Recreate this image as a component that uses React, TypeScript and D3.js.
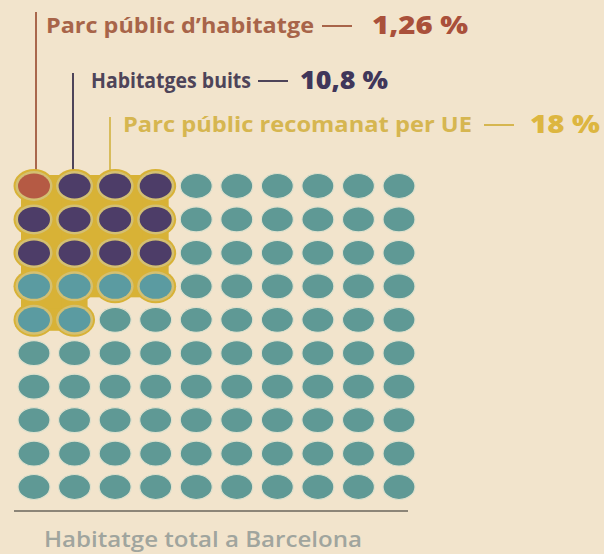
import React from "react";
import * as d3 from "d3";

const categories = ["Parc públic d’habitatge", "Habitatges buits", "Parc públic recomanat per UE"];
const values = [1.26, 10.8, 18];
const valueLabels = ["1,26 %", "10,8 %", "18 %"];
const totalLabel = "Habitatge total a Barcelona";
const gridSize = 10;
const blockWidth = 4;

const W = 604;
const H = 554;

const colors = {
  bg: "#f2e4cc",
  red: "#b55a44",
  purple: "#4d3d68",
  teal: "#5f9995",
  tealHi: "#5b9ba1",
  yellow: "#d8b236",
  yellowRing: "#d4c072",
  labelRed: "#a86449",
  labelPurple: "#4e4459",
  labelYellow: "#d6b650",
  valueRed: "#a9503a",
  valuePurple: "#40365a",
  valueYellow: "#ddb640",
  grey: "#a0a59e",
};

export default function App() {
  const x = d3.scaleLinear().domain([0, gridSize - 1]).range([34, 399]);
  const y = d3.scaleLinear().domain([0, gridSize - 1]).range([186, 487]);

  const redCount = Math.round(values[0]);
  const purpleCount = Math.round(values[1]);
  const hiCount = Math.round(values[2]);

  const blockCells: { r: number; c: number; k: number }[] = [];
  for (let k = 0; k < hiCount; k++) blockCells.push({ r: Math.floor(k / blockWidth), c: k % blockWidth, k });
  const blockIndex = new Map<string, number>();
  blockCells.forEach((b) => blockIndex.set(`${b.r}-${b.c}`, b.k));

  const cells: { r: number; c: number; kind: string }[] = [];
  for (let r = 0; r < gridSize; r++) {
    for (let c = 0; c < gridSize; c++) {
      const k = blockIndex.get(`${r}-${c}`);
      let kind = "teal";
      if (k !== undefined) {
        if (k < redCount) kind = "red";
        else if (k < redCount + purpleCount) kind = "purple";
        else kind = "tealHi";
      }
      cells.push({ r, c, kind });
    }
  }

  const rx = 16;
  const ry = 12.5;

  const connectors: { x1: number; y1: number; x2: number; y2: number }[] = [];
  blockCells.forEach((b) => {
    if (blockIndex.has(`${b.r}-${b.c + 1}`)) connectors.push({ x1: x(b.c), y1: y(b.r) - 11, x2: x(b.c + 1), y2: y(b.r) + 11 });
    if (blockIndex.has(`${b.r + 1}-${b.c}`)) connectors.push({ x1: x(b.c) - 13, y1: y(b.r), x2: x(b.c) + 13, y2: y(b.r + 1) });
    if (blockIndex.has(`${b.r + 1}-${b.c + 1}`) && blockIndex.has(`${b.r}-${b.c + 1}`) && blockIndex.has(`${b.r + 1}-${b.c}`))
      connectors.push({ x1: x(b.c), y1: y(b.r), x2: x(b.c + 1), y2: y(b.r + 1) });
  });

  const labels = [
    { lx: 36, top: 12, tx: 46, base: 33, labelColor: colors.labelRed, valueColor: colors.valueRed, lineColor: "#a9674c", labelW: 268, dashX: 322, valueX: 372, valueW: 96 },
    { lx: 73, top: 73, tx: 91, base: 88, labelColor: colors.labelPurple, valueColor: colors.valuePurple, lineColor: "#4e4459", labelW: 160, dashX: 258, valueX: 300, valueW: 88 },
    { lx: 110, top: 117, tx: 123, base: 132, labelColor: colors.labelYellow, valueColor: colors.valueYellow, lineColor: "#d8bc5c", labelW: 349, dashX: 484, valueX: 530, valueW: 70 },
  ];

  const font = "'Open Sans', 'Noto Sans', sans-serif";

  return (
    <svg width={W} height={H} style={{ position: "absolute", left: 0, top: 0, display: "block" }}>
      <rect width={W} height={H} fill={colors.bg} />
      {labels.map((l, i) => (
        <g key={i}>
          <line x1={l.lx} x2={l.lx} y1={l.top} y2={174} stroke={l.lineColor} strokeWidth={2} />
          <text x={l.tx} y={l.base} fill={l.labelColor} fontFamily={font} fontWeight={700} fontSize={21.5} textLength={l.labelW} lengthAdjust="spacingAndGlyphs">
            {categories[i]}
          </text>
          <line x1={l.dashX} x2={l.dashX + 30} y1={l.base - 7} y2={l.base - 7} stroke={l.labelColor} strokeWidth={2} />
          <text x={l.valueX} y={l.base + 1} fill={l.valueColor} fontFamily={font} fontWeight={800} fontSize={24} textLength={l.valueW} lengthAdjust="spacingAndGlyphs">
            {valueLabels[i]}
          </text>
        </g>
      ))}
      <g fill={colors.yellow}>
        {blockCells.map((b) => (
          <ellipse key={`y${b.k}`} cx={x(b.c)} cy={y(b.r)} rx={20.5} ry={17} />
        ))}
        {connectors.map((c, i) => (
          <rect key={`c${i}`} x={c.x1} y={c.y1} width={c.x2 - c.x1} height={c.y2 - c.y1} />
        ))}
      </g>
      {cells.map((d, i) => {
        const hi = d.kind !== "teal";
        return (
          <g key={i}>
            {hi && <ellipse cx={x(d.c)} cy={y(d.r)} rx={rx + 2.5} ry={ry + 2.5} fill={colors.yellowRing} />}
            <ellipse
              cx={x(d.c)}
              cy={y(d.r)}
              rx={rx}
              ry={ry}
              fill={(colors as any)[d.kind]}
              stroke={hi ? "none" : "#dfe0cc"}
              strokeWidth={hi ? 0 : 1.2}
            />
          </g>
        );
      })}
      <line x1={14} x2={408} y1={511} y2={511} stroke="#6a665c" strokeWidth={1.5} />
      <text x={44} y={547} fill={colors.grey} fontFamily={font} fontWeight={600} fontSize={22} textLength={318} lengthAdjust="spacingAndGlyphs">
        {totalLabel}
      </text>
    </svg>
  );
}
